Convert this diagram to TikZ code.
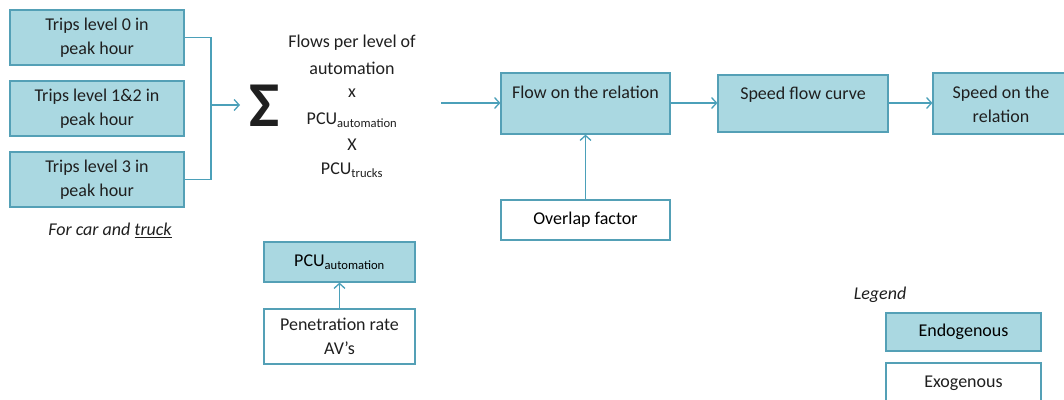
\documentclass[tikz,border=0pt]{standalone}
\usepackage{fontspec}
\setmainfont{Carlito}
\usetikzlibrary{arrows.meta}
\definecolor{boxfill}{RGB}{170,216,225}
\definecolor{boxline}{RGB}{84,160,182}
\definecolor{arrowc}{RGB}{75,160,185}
\begin{document}
\begin{tikzpicture}[x=1pt,y=-1pt,
  font=\fontsize{18}{24}\selectfont,
  endo/.style={draw=boxline, fill=boxfill, line width=1.2pt, inner sep=0pt, align=center},
  exo/.style={draw=boxline, fill=white, line width=1.2pt, inner sep=0pt, align=center},
  txt/.style={inner sep=0pt, align=center, text=black!88},
  conn/.style={draw=arrowc, line width=1.3pt},
  arr/.style={conn, -{Straight Barb[length=5pt,width=11pt,line width=1.3pt]}}]
\useasboundingbox (0,0) rectangle (1064,399);
\begin{scope}
\clip (0,0) rectangle (1064,399);
% left trip boxes
\node[endo, minimum width=174pt, minimum height=55pt] (t0) at (97,37.5) {};
\node[txt] (t0t) at (97,37.5) {Trips level 0 in\\peak hour};
\node[endo, minimum width=174pt, minimum height=55pt] (t12) at (97,108.5) {};
\node[txt] (t12t) at (97,108.5) {Trips level 1\&2 in\\peak hour};
\node[endo, minimum width=174pt, minimum height=55pt] (t3) at (97,179.5) {};
\node[txt] (t3t) at (97,179.5) {Trips level 3 in\\peak hour};
\node[txt] (forcar) at (110,230) {\itshape For car and \underline{truck}};
% merge connector
\coordinate (mtop) at (211,37.5);
\coordinate (mbot) at (211,179.5);
\coordinate (mmid) at (211,105);
\coordinate (sumin) at (240,105);
\draw[conn] (t0.east) -- (mtop) -- (mbot) -- (t3.east);
\draw[arr] (mmid) -- (sumin);
% sum and formula
\node[txt, font=\fontsize{64}{64}\bfseries\selectfont] (sum) at (265,106) {Σ};
\node[txt] (f1) at (352,43) {Flows per level of};
\node[txt] (f2) at (352,68) {automation};
\node[txt] (f3) at (352,93) {x};
\node[txt] (f4) at (352,120) {PCU\textsubscript{automation}};
\node[txt] (f5) at (352,145) {X};
\node[txt] (f6) at (352,170) {PCU\textsubscript{trucks}};
\coordinate (fout) at (441,103);
% flow chain
\node[endo, minimum width=169pt, minimum height=61pt] (flow) at (585.5,103.5) {};
\node[txt] (flowt) at (585.5,92) {Flow on the relation};
\node[endo, minimum width=170pt, minimum height=57pt] (sfc) at (803,103.5) {};
\node[txt] (sfct) at (803,95) {Speed flow curve};
\node[endo, minimum width=140pt, minimum height=61pt] (sor) at (1003,103.5) {};
\node[txt] (sort) at (1001,104) {Speed on the\\relation};
\draw[arr] (fout) -- (flow.west |- fout);
\draw[arr] (flow.east |- fout) -- (sfc.west |- fout);
\draw[arr] (sfc.east |- fout) -- (sor.west |- fout);
% overlap
\node[exo, minimum width=169pt, minimum height=40pt] (ovl) at (585.5,220) {Overlap factor};
\draw[arr] (ovl.north) -- (flow.south);
% PCU automation
\node[endo, minimum width=151pt, minimum height=40pt] (pcu) at (339.5,262) {PCU\textsubscript{automation}};
\node[exo, minimum width=151pt, minimum height=55pt] (pen) at (339.5,336.5) {};
\node[txt] (pent) at (339.5,336.5) {Penetration rate\\AV’s};
\draw[arr] (pen.north) -- (pcu.south);
% legend
\node[txt] (leg) at (880,295) {\itshape Legend};
\node[endo, minimum width=155pt, minimum height=38pt] (endo) at (963.5,332) {Endogenous};
\node[exo, minimum width=155pt, minimum height=44pt] (exo) at (963.5,385) {};
\node[txt] (exot) at (963.5,383) {Exogenous};
\end{scope}
\end{tikzpicture}
\end{document}
